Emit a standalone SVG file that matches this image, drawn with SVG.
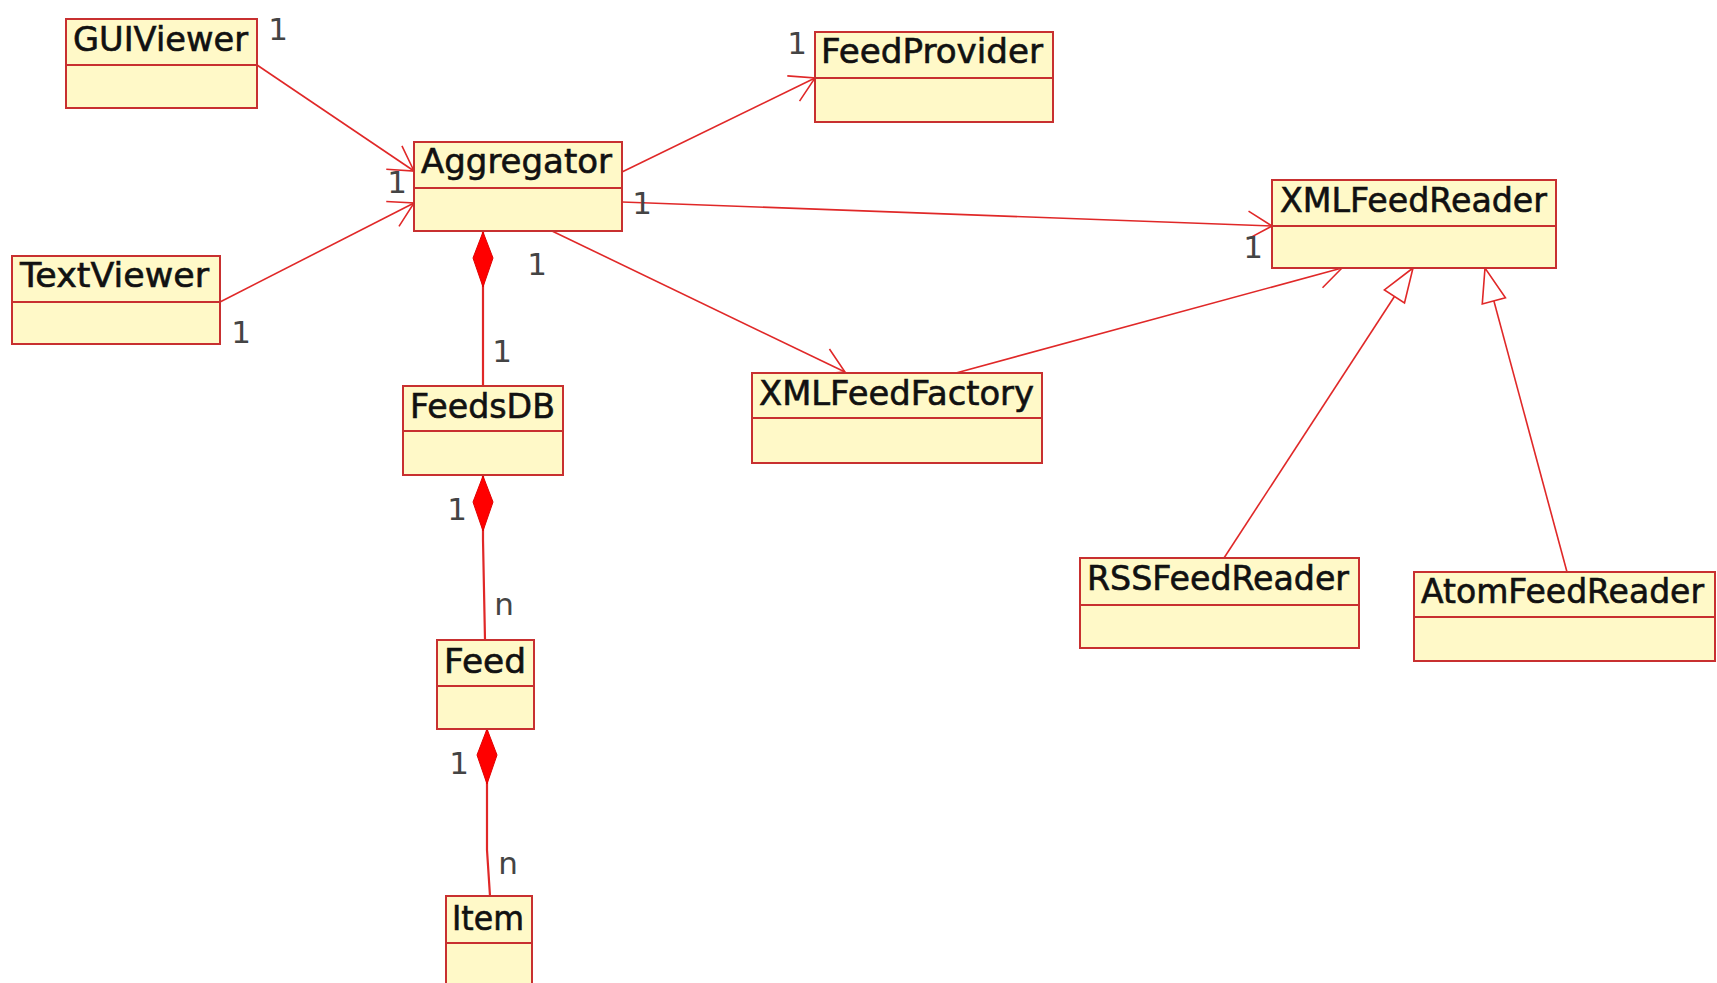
<svg xmlns="http://www.w3.org/2000/svg" width="1717" height="983" viewBox="0 0 1717 983">
<style>
.box{fill:#fff9c8;stroke:#c83030;stroke-width:2}
.div{stroke:#c83030;stroke-width:2}
.name{font-family:"DejaVu Sans","Liberation Sans",sans-serif;font-size:33px;fill:#111;stroke:#111;stroke-width:0.6}
.mult{font-family:"DejaVu Sans","Liberation Sans",sans-serif;font-size:31px;fill:#444;text-anchor:middle}
.conn{stroke:#e02828;stroke-width:1.6;fill:none}
.nav{marker-end:url(#open)}
.gen{marker-end:url(#tri)}
.comp{marker-start:url(#dia);stroke-width:2.2}
</style>
<defs>
<marker id="open" markerUnits="userSpaceOnUse" markerWidth="40" markerHeight="40" viewBox="-30 -20 40 40" refX="0" refY="0" orient="auto">
<path d="M-24,-14 L0,0 L-24,14" fill="none" stroke="#e02828" stroke-width="1.6"/>
</marker>
<marker id="tri" markerUnits="userSpaceOnUse" markerWidth="50" markerHeight="40" viewBox="-40 -20 50 40" refX="0" refY="0" orient="auto">
<path d="M0,0 L-34,-12 L-34,12 Z" fill="#ffffff" stroke="#e02828" stroke-width="1.6"/>
</marker>
<marker id="dia" markerUnits="userSpaceOnUse" markerWidth="70" markerHeight="30" viewBox="-5 -15 70 30" refX="0" refY="0" orient="auto">
<path d="M0,0 L26,-10 L55,0 L26,10 Z" fill="#ff0000" stroke="#e00000" stroke-width="1"/>
</marker>
</defs>

<g id="connectors">
<line class="conn nav" x1="257" y1="65" x2="414" y2="171"/>
<line class="conn nav" x1="220" y1="302" x2="414" y2="203"/>
<line class="conn nav" x1="622" y1="172" x2="815" y2="78"/>
<line class="conn nav" x1="622" y1="202" x2="1272" y2="226"/>
<line class="conn nav" x1="552" y1="231" x2="845" y2="372"/>
<line class="conn nav" x1="956" y1="373" x2="1342" y2="268"/>
<line class="conn gen" x1="1224" y1="558" x2="1413" y2="268"/>
<line class="conn gen" x1="1567" y1="572" x2="1485" y2="268"/>
<line class="conn comp" x1="483" y1="232" x2="483" y2="386"/>
<polyline class="conn comp" points="483,476 483,540 485,640"/>
<polyline class="conn comp" points="487,729 487,850 490,896"/>
<g id="multiplicities">
<text class="mult" x="278" y="40">1</text>
<text class="mult" x="397" y="193">1</text>
<text class="mult" x="241" y="343">1</text>
<text class="mult" x="797" y="54">1</text>
<text class="mult" x="642" y="214">1</text>
<text class="mult" x="1253" y="258">1</text>
<text class="mult" x="537" y="275">1</text>
<text class="mult" x="502" y="362">1</text>
<text class="mult" x="457" y="520">1</text>
<text class="mult" x="504" y="615">n</text>
<text class="mult" x="459" y="774">1</text>
<text class="mult" x="508" y="874">n</text>
</g>
</g>

<g id="GUIViewer">
<rect class="box" x="66" y="19" width="191" height="89"/>
<line class="div" x1="66" y1="65" x2="257" y2="65"/>
<text class="name" x="73" y="51" textLength="175" lengthAdjust="spacingAndGlyphs">GUIViewer</text>
</g>
<g id="TextViewer">
<rect class="box" x="12" y="256" width="208" height="88"/>
<line class="div" x1="12" y1="302" x2="220" y2="302"/>
<text class="name" x="20" y="287" textLength="189" lengthAdjust="spacingAndGlyphs">TextViewer</text>
</g>
<g id="Aggregator">
<rect class="box" x="414" y="142" width="208" height="89"/>
<line class="div" x1="414" y1="188" x2="622" y2="188"/>
<text class="name" x="421" y="173" textLength="191" lengthAdjust="spacingAndGlyphs">Aggregator</text>
</g>
<g id="FeedProvider">
<rect class="box" x="815" y="32" width="238" height="90"/>
<line class="div" x1="815" y1="78" x2="1053" y2="78"/>
<text class="name" x="821" y="63" textLength="222" lengthAdjust="spacingAndGlyphs">FeedProvider</text>
</g>
<g id="XMLFeedReader">
<rect class="box" x="1272" y="180" width="284" height="88"/>
<line class="div" x1="1272" y1="226" x2="1556" y2="226"/>
<text class="name" x="1280" y="212" textLength="267" lengthAdjust="spacingAndGlyphs">XMLFeedReader</text>
</g>
<g id="XMLFeedFactory">
<rect class="box" x="752" y="373" width="290" height="90"/>
<line class="div" x1="752" y1="418" x2="1042" y2="418"/>
<text class="name" x="759" y="405" textLength="275" lengthAdjust="spacingAndGlyphs">XMLFeedFactory</text>
</g>
<g id="FeedsDB">
<rect class="box" x="403" y="386" width="160" height="89"/>
<line class="div" x1="403" y1="431" x2="563" y2="431"/>
<text class="name" x="410" y="418" textLength="145" lengthAdjust="spacingAndGlyphs">FeedsDB</text>
</g>
<g id="Feed">
<rect class="box" x="437" y="640" width="97" height="89"/>
<line class="div" x1="437" y1="686" x2="534" y2="686"/>
<text class="name" x="444" y="673" textLength="82" lengthAdjust="spacingAndGlyphs">Feed</text>
</g>
<g id="Item">
<rect class="box" x="446" y="896" width="86" height="96"/>
<line class="div" x1="446" y1="943" x2="532" y2="943"/>
<text class="name" x="452" y="930" textLength="72" lengthAdjust="spacingAndGlyphs">Item</text>
</g>
<g id="RSSFeedReader">
<rect class="box" x="1080" y="558" width="279" height="90"/>
<line class="div" x1="1080" y1="605" x2="1359" y2="605"/>
<text class="name" x="1087" y="590" textLength="262" lengthAdjust="spacingAndGlyphs">RSSFeedReader</text>
</g>
<g id="AtomFeedReader">
<rect class="box" x="1414" y="572" width="301" height="89"/>
<line class="div" x1="1414" y1="617" x2="1715" y2="617"/>
<text class="name" x="1421" y="603" textLength="283" lengthAdjust="spacingAndGlyphs">AtomFeedReader</text>
</g>
</svg>
